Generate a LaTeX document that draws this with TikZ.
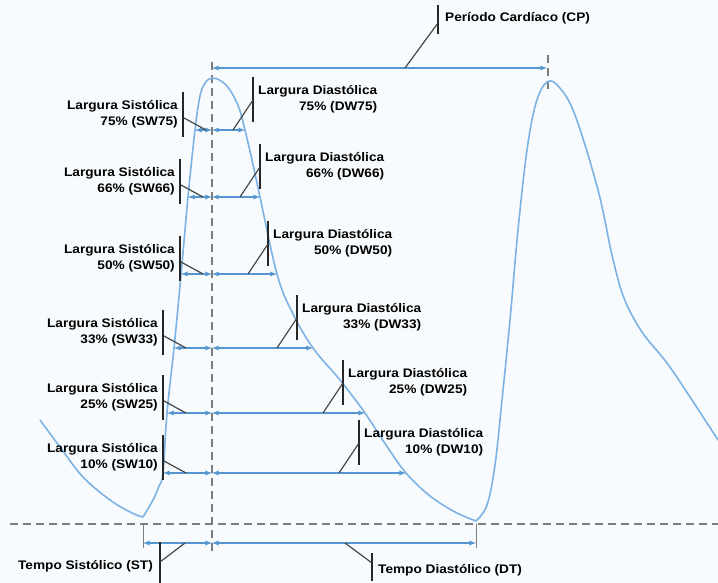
\documentclass[tikz,border=0pt]{standalone}
\usepackage{fontspec}
\setmainfont{Liberation Sans}
\newfontfamily\lblfont[FakeStretch=1.1]{Liberation Sans}
\tikzset{>=latex}
\definecolor{wavec}{RGB}{125,178,228}
\definecolor{dimc}{RGB}{85,150,210}
\definecolor{leadc}{RGB}{70,70,70}
\definecolor{guidec}{RGB}{125,125,125}
\definecolor{bgc}{RGB}{248,251,253}

\begin{document}
\begin{tikzpicture}[x=1pt, y=-1pt,
    wave/.style={wavec, line width=1.6pt},
    dim/.style={dimc, line width=1.3pt},
    lead/.style={leadc, line width=1.2pt},
    post/.style={black!85, line width=1.6pt},
    guide/.style={guidec, line width=1.1pt, dash pattern=on 8pt off 5pt},
    lbl/.style={font=\lblfont\bfseries\fontsize{12.4}{16.5}\selectfont, inner sep=0pt, align=right}]
    \fill[bgc](0, 0)rectangle(718, 583);
    \useasboundingbox(0, 0)rectangle(718, 583);
    % guide lines
    \draw[guide](10, 524)--(718, 524);
    \draw[guide](212, 62)--(212, 553);
    \draw[guide](548, 55)--(548, 92);
    \draw[guidec, line width=1pt](143, 524)--(143, 548);
    \draw[guidec, line width=1pt](476, 524)--(476, 548);
    % signal
    \draw[wave]plot[smooth, tension=.6]coordinates{(40, 420) (60, 447) (83, 477) (110, 500) (132, 513) (143, 517)};
    \draw[wave]plot[smooth, tension=.6]coordinates{(143, 517) (153, 500) (159, 486) (163, 473) (167, 413) (174, 348)
        (181, 275) (188, 197) (195, 130) (200, 96) (205, 83) (212, 78) (221, 81) (230, 90) (239, 108) (245, 130)
        (252, 160) (260, 197) (277, 274) (292, 312) (313, 348) (340, 380) (365, 413) (386, 445) (406, 473)
        (430, 496) (455, 512) (476, 521)};
    \draw[wave]plot[smooth, tension=.6]coordinates{(476, 521) (487, 505) (495, 465) (502, 400) (510, 320) (518, 230)
        (527, 150) (536, 103) (547, 82) (559, 87) (575, 115) (598, 190) (612, 255) (624, 298) (642, 332) (667, 363)
        (690, 397) (718, 440)};
    % widths
    \foreach \p/\y/\xl/\xr/\bs/\bd in {75/130/195/245/183/253, 66/197/188/260/180/260, 50/274/181/277/180/268,
        33/348/174/313/163/297, 25/413/167/365/163/343, 10/473/163/406/163/359}{
        \coordinate(s\p)at(\xl, \y);
        \coordinate(m\p)at(212, \y);
        \coordinate(d\p)at(\xr, \y);
        \draw[dim, <->](s\p)--(m\p);
        \draw[dim, <->](m\p)--(d\p);
        \draw[post](\bs, \y-38)--(\bs, \y+7);
        \draw[lead](\bs+1, \y-12)--(\bs+23, \y);
        \node[lbl, anchor=east](sw\p)at(\bs-5, \y-16){Largura Sistólica\\\p\% (SW\p)};
        \draw[post](\bd, \y-53)--(\bd, \y-8);
        \draw[lead](\bd, \y-30)--(\bd-20, \y);
        \node[lbl, anchor=west](dw\p)at(\bd+5, \y-31){Largura Diastólica\\\p\% (DW\p)};
    }
    % period and times
    \coordinate(cpa)at(212, 68);
    \coordinate(cpb)at(547, 68);
    \draw[dim, <->](cpa)--(cpb);
    \draw[post](438, 5)--(438, 34);
    \draw[lead](438, 23)--(405, 68);
    \node[lbl, anchor=west](cp)at(445, 18){Período Cardíaco (CP)};
    \coordinate(sta)at(143, 543);
    \coordinate(stb)at(212, 543);
    \coordinate(dtb)at(476, 543);
    \draw[dim, <->](sta)--(stb);
    \draw[dim, <->](stb)--(dtb);
    \draw[post](160, 542)--(160, 583);
    \draw[lead](160, 562)--(185, 543);
    \node[lbl, anchor=east](st)at(153, 566){Tempo Sistólico (ST)};
    \draw[post](372, 553)--(372, 581);
    \draw[lead](372, 563)--(345, 543);
    \node[lbl, anchor=west](dt)at(378, 570){Tempo Diastólico (DT)};
\end{tikzpicture}
\end{document}
